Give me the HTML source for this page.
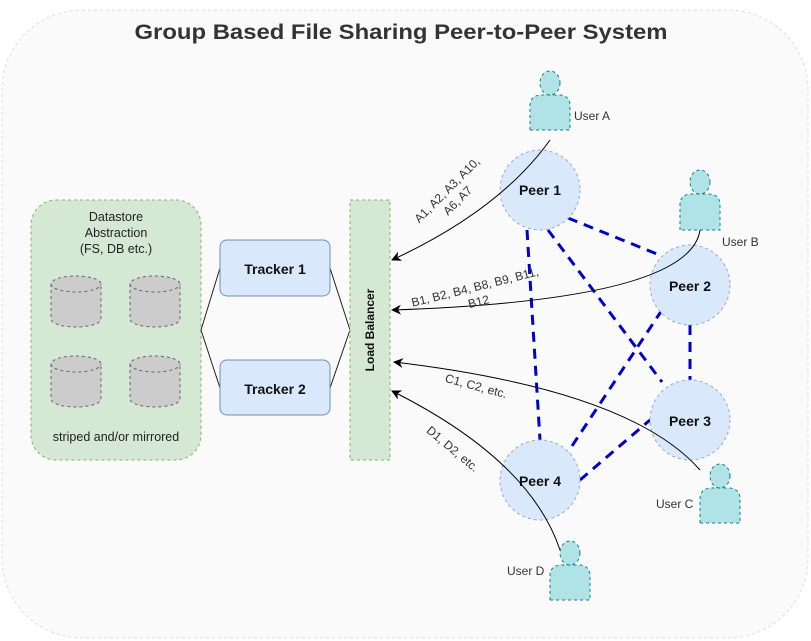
<!DOCTYPE html>
<html><head><meta charset="utf-8"><style>
html,body{margin:0;padding:0;background:#fff;}
svg{display:block;font-family:"Liberation Sans",Arial,sans-serif;}
</style></head><body>
<svg width="811" height="641" viewBox="0 0 811 641" xmlns="http://www.w3.org/2000/svg">
<defs>
<marker id="ar" markerWidth="10" markerHeight="10" refX="9" refY="5" orient="auto" markerUnits="userSpaceOnUse">
<path d="M0,0 L10,5 L0,10 L3,5 Z" fill="#000"/>
</marker>
</defs>
<rect x="2" y="10" width="806" height="628" rx="80" fill="#fafafa" stroke="#ddd" stroke-dasharray="3,3"/>
<text x="401" y="39" text-anchor="middle" font-size="21" font-weight="bold" fill="#333" textLength="533" lengthAdjust="spacingAndGlyphs">Group Based File Sharing Peer-to-Peer System</text>

<rect x="31" y="200" width="170" height="260" rx="25" fill="#d5e8d4" stroke="#82b366" stroke-dasharray="3,3"/>
<g font-size="12.5" fill="#222" text-anchor="middle">
<text x="116" y="221">Datastore</text>
<text x="116" y="237">Abstraction</text>
<text x="116" y="253">(FS, DB etc.)</text>
<text x="116" y="441">striped and/or mirrored</text>
</g>
<g fill="#ccc" stroke="#666" stroke-dasharray="3,3">
<path d="M51,284 V319 A25,8 0 0 0 101,319 V284 A25,8 0 0 0 51,284 Z"/><path d="M51,284 A25,8 0 0 0 101,284" fill="none"/>
<path d="M130,284 V319 A25,8 0 0 0 180,319 V284 A25,8 0 0 0 130,284 Z"/><path d="M130,284 A25,8 0 0 0 180,284" fill="none"/>
<path d="M51,364 V399 A25,8 0 0 0 101,399 V364 A25,8 0 0 0 51,364 Z"/><path d="M51,364 A25,8 0 0 0 101,364" fill="none"/>
<path d="M130,364 V399 A25,8 0 0 0 180,399 V364 A25,8 0 0 0 130,364 Z"/><path d="M130,364 A25,8 0 0 0 180,364" fill="none"/>
</g>

<g fill="none" stroke="#222" stroke-width="1">
<path d="M220,268 L201,330 L220,388"/>
<path d="M330,268 L350,330 L330,388"/>
</g>
<rect x="220" y="240" width="110" height="56" rx="7" fill="#dae8fc" stroke="#6c8ebf"/>
<rect x="220" y="360" width="110" height="55" rx="7" fill="#dae8fc" stroke="#6c8ebf"/>
<text x="275" y="274" text-anchor="middle" font-size="14" font-weight="bold" fill="#111">Tracker 1</text>
<text x="275" y="394" text-anchor="middle" font-size="14" font-weight="bold" fill="#111">Tracker 2</text>

<rect x="350" y="200" width="40" height="260" fill="#d5e8d4" stroke="#82b366" stroke-dasharray="3,3"/>
<text transform="translate(374,330) rotate(-90)" text-anchor="middle" font-size="12" font-weight="bold" fill="#111">Load Balancer</text>

<g stroke="#0000cc" stroke-width="3" stroke-dasharray="10,7" fill="none">
<line x1="568" y1="218" x2="662" y2="256"/>
<line x1="527" y1="230" x2="540" y2="440"/>
<line x1="548" y1="230" x2="662" y2="382"/>
<line x1="662" y1="310" x2="568" y2="452"/>
<line x1="690" y1="325" x2="690" y2="380"/>
<line x1="580" y1="480" x2="650" y2="420"/>
</g>

<g fill="#dae8fc" stroke="#9aa8c8" stroke-dasharray="3,3">
<circle cx="540" cy="190" r="40"/>
<circle cx="690" cy="285" r="40"/>
<circle cx="690" cy="420" r="40"/>
<circle cx="540" cy="480" r="40"/>
</g>
<g font-size="14" font-weight="bold" fill="#111" text-anchor="middle">
<text x="540" y="195">Peer 1</text>
<text x="690" y="291">Peer 2</text>
<text x="690" y="426">Peer 3</text>
<text x="540" y="486">Peer 4</text>
</g>

<g fill="#b0e3e6" stroke="#0e8088" stroke-dasharray="3,3">
<ellipse cx="550" cy="83" rx="10" ry="12"/>
<path d="M530,130 V106 Q530,95 542,95 L558,95 Q570,95 570,106 V130 Z"/>
<ellipse cx="700" cy="182" rx="10" ry="12"/>
<path d="M680,230 V205 Q680,194 692,194 L708,194 Q720,194 720,205 V230 Z"/>
<ellipse cx="720" cy="476" rx="10" ry="12"/>
<path d="M700,523 V499 Q700,488 712,488 L728,488 Q740,488 740,499 V523 Z"/>
<ellipse cx="570" cy="553" rx="10" ry="12"/>
<path d="M550,600 V576 Q550,565 562,565 L578,565 Q590,565 590,576 V600 Z"/>
</g>
<g font-size="12" fill="#333">
<text x="574" y="120">User A</text>
<text x="722" y="246">User B</text>
<text x="656" y="508">User C</text>
<text x="507" y="575">User D</text>
</g>

<g fill="none" stroke="#000" stroke-width="1" marker-end="url(#ar)">
<path d="M550,140 Q500,210 392,260"/>
<path d="M700,230 Q690,300 392,310"/>
<path d="M700,470 Q630,390 394,362"/>
<path d="M560,550 Q530,460 392,391"/>
</g>
<g font-size="12" fill="#333" text-anchor="middle">
<g transform="translate(452,195) rotate(-45)"><text x="0" y="-3">A1, A2, A3, A10,</text><text x="0" y="12">A6, A7</text></g>
<g transform="translate(476,291) rotate(-14)"><text x="0" y="0">B1, B2, B4, B8, B9, B11,</text><text x="0" y="15">B12</text></g>
<text transform="translate(475,390) rotate(15)">C1, C2, etc.</text>
<text transform="translate(450,452) rotate(40)">D1, D2, etc.</text>
</g>
</svg>
</body></html>
